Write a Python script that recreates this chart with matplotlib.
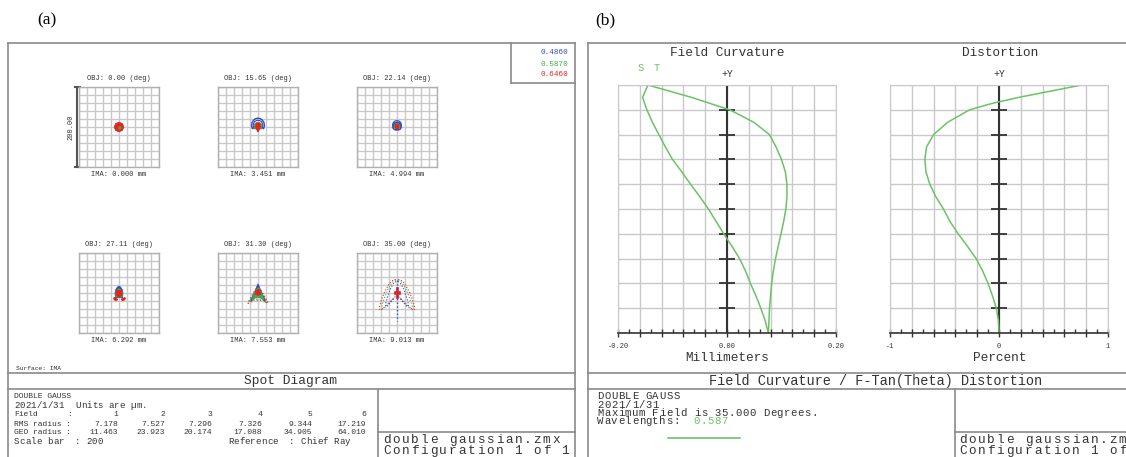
import numpy as np
import matplotlib
matplotlib.use("Agg")
import matplotlib.pyplot as plt

# ==============================
# CANVAS
# ==============================
W, H = 1126, 457
MONO = "Liberation Mono"
SERIF = "Liberation Serif"

BLUE = "#2f49c4"
GREEN = "#3fae3f"
RED = "#e8231e"
CURVE_GREEN = "#6cc267"
FRAME = "#8a8a8a"
GRID = "#c9c9c9"
INK = "#333333"

# ==============================
# DATA - spot diagram (a)
# ==============================
FIELD_ANGLES = ["0.00", "15.65", "22.14", "27.11", "31.30", "35.00"]
IMA_HEIGHTS = ["0.000", "3.451", "4.994", "6.292", "7.553", "9.013"]
WAVELENGTHS = ["0.4860", "0.5870", "0.6460"]

RMS_RADIUS = ["7.178", "7.527", "7.296", "7.326", "9.344", "17.219"]
GEO_RADIUS = ["11.463", "23.923", "20.174", "17.088", "34.905", "64.010"]

# spot outlines in micrometres (x right, y up)
F1_RED_X = [12, 8.5, 0, -8.5, -12, -8.5, 0, 8.5]
F1_RED_Y = [0, 8.5, 12, 8.5, 0, -8.5, -12, -8.5]
F1_GREEN_X = [0, 2, -1]
F1_GREEN_Y = [0, 1, -2]

F2_RING_X = [-14, -16, -15, -11, -6, 0, 6, 11, 15, 16, 14]
F2_RING_Y = [-4, 3, 11, 17, 21, 22, 21, 17, 11, 3, -4]
F2_RING2_X = [-11, -12, -11, -8, -4, 0, 4, 8, 11, 12, 11]
F2_RING2_Y = [-3, 3, 9, 14, 16, 17, 16, 14, 9, 3, -3]
F2_GREEN_X = [-9, -10, -8, -4, 0, 4, 8, 10, 9]
F2_GREEN_Y = [-5, 2, 8, 11, 12, 11, 8, 2, -5]
F2_RED_X = [-5, -6, -6, 0, 6, 6, 5]
F2_RED_Y = [10, 2, -2, -13, -2, 2, 10]

F3_BLUE_X = [-10, -11, -9, -5, 0, 5, 9, 11, 10, 5, -5]
F3_BLUE_Y = [-5, 2, 9, 12, 13, 12, 9, 2, -5, -8, -8]
F3_RING_X = [-10, -11, -9, -5, 0, 5, 9, 11, 10]
F3_RING_Y = [0, 6, 12, 15, 16, 15, 12, 6, 0]
F3_GREEN_X = [-7, -8, -6, 0, 6, 8, 7]
F3_GREEN_Y = [-4, 2, 7, 9, 7, 2, -4]
F3_RED_X = [-5, -5, 0, 5, 5]
F3_RED_Y = [7, -1, -7, -1, 7]

F4_BLUE_X = [-9, -10, -8, -4, 0, 4, 8, 10, 9, 0]
F4_BLUE_Y = [-13, 0, 9, 15, 17, 15, 9, 0, -13, -11]
F4_GREEN_X = [-8, -8, -5, 0, 5, 8, 8]
F4_GREEN_Y = [-10, 2, 8, 11, 8, 2, -10]
F4_RED_X = [-7, -7, 0, 7, 7]
F4_RED_Y = [7, -6, -11, -6, 7]
F4_DOTS_X = [-12, -10, -8, 8, 10, 12]
F4_DOTS_Y = [-13, -15, -14, -14, -15, -13]

# right half of the symmetric shapes of fields 5 and 6
F5_BLUE_X = [0, 4, 8, 12, 16, 19, 17, 11, 5, 0]
F5_BLUE_Y = [23, 14, 4, -5, -13, -20, -21, -15, -11, -10]
F5_GREEN_X = [0, 4, 8, 12, 15, 12, 6, 0]
F5_GREEN_Y = [14, 6, -2, -10, -16, -16, -11, -9]
F5_REDARC_X = [2, 8, 14, 19, 24, 25, 20, 14]
F5_REDARC_Y = [14, 6, -4, -13, -22, -26, -24, -18]
F5_GRNARC_X = [2, 7, 12, 17, 21, 20, 15, 10]
F5_GRNARC_Y = [12, 4, -5, -13, -21, -24, -20, -15]
F5_RED_X = [-6, 0, 6, 7, 0, -7]
F5_RED_Y = [6, 10, 6, -3, -6, -3]

F6_RED_WING_X = [3, 9, 15, 21, 27, 32, 37, 41, 44, 43, 37, 29, 21, 13, 7]
F6_RED_WING_Y = [34, 33, 28, 20, 10, 0, -12, -24, -36, -43, -41, -33, -25, -17, -11]
F6_GRN_WING_X = [3, 8, 13, 18, 23, 27, 31, 35, 38, 37, 31, 24, 17, 11, 6]
F6_GRN_WING_Y = [31, 30, 25, 17, 8, -1, -12, -23, -33, -39, -37, -30, -23, -16, -10]
F6_BLU_WING_X = [2, 6, 10, 14, 18, 21, 24, 27, 29, 28, 23, 18, 13, 8, 4]
F6_BLU_WING_Y = [28, 27, 22, 15, 7, -2, -11, -21, -29, -34, -32, -26, -20, -14, -9]
F6_TAIL_Y = [33, -70]
F6_CORE_X = [-3, 3, 3, 8, 8, 3, 3, -3, -3, -8, -8, -3]
F6_CORE_Y = [14, 14, 5, 5, -3, -3, -12, -12, -3, -3, 5, 5]

# ==============================
# DATA - field curvature / distortion (b)
# ==============================
FIELD_FRAC = [0.0, 0.05, 0.10, 0.15, 0.20, 0.25, 0.30, 0.35, 0.40, 0.45,
              0.50, 0.55, 0.60, 0.65, 0.70, 0.75, 0.80, 0.85, 0.90, 0.95, 1.0]
FC_SAG = [0.076, 0.077, 0.078, 0.080, 0.082, 0.085, 0.089, 0.094, 0.099, 0.104,
          0.108, 0.110, 0.110, 0.107, 0.100, 0.090, 0.078, 0.049, 0.005, -0.065, -0.145]
FC_TAN = [0.076, 0.070, 0.062, 0.053, 0.043, 0.034, 0.023, 0.009, -0.006, -0.020,
          -0.034, -0.050, -0.067, -0.083, -0.100, -0.113, -0.125, -0.137, -0.147, -0.155, -0.145]

DIST_FRAC = [0.0, 0.05, 0.10, 0.15, 0.20, 0.25, 0.30, 0.35, 0.40, 0.45, 0.50,
             0.55, 0.60, 0.65, 0.70, 0.75, 0.80, 0.85, 0.90, 0.925, 0.95, 0.975, 1.0]
DISTORTION = [0.0, -0.005, -0.025, -0.06, -0.10, -0.15, -0.21, -0.29, -0.375, -0.45, -0.51,
              -0.58, -0.635, -0.67, -0.68, -0.665, -0.60, -0.47, -0.27, -0.07, 0.18, 0.47, 0.76]


# ===============================================================
# HELPERS
# ===============================================================
def px_axes(fig, x0, y0, x1, y1):
    return fig.add_axes([x0 / W, 1 - y1 / H, (x1 - x0) / W, (y1 - y0) / H])


def mirror(xs, ys):
    xs = np.asarray(xs, float)
    ys = np.asarray(ys, float)
    return np.concatenate([xs, -xs[::-1]]), np.concatenate([ys, ys[::-1]])


def spot_box(ax):
    ax.set_xlim(-100, 100)
    ax.set_ylim(-100, 100)
    ax.set_xticks(np.arange(-100, 101, 20))
    ax.set_yticks(np.arange(-100, 101, 20))
    ax.grid(True, color=GRID, lw=1.0)
    ax.tick_params(length=0, labelbottom=False, labelleft=False)
    for s in ax.spines.values():
        s.set_color("#b0b0b0")
        s.set_linewidth(1.0)
    ax.set_axisbelow(True)


def draw_spots(ax, i):
    if i == 0:
        ax.fill(F1_RED_X, F1_RED_Y, color=RED, lw=0.6)
        ax.plot(F1_GREEN_X, F1_GREEN_Y, ".", color=GREEN, ms=1.5)
    elif i == 1:
        ax.plot(F2_RING_X, F2_RING_Y, color=BLUE, lw=1.0)
        ax.plot(F2_RING2_X, F2_RING2_Y, color=BLUE, lw=0.8)
        ax.fill(F2_GREEN_X, F2_GREEN_Y, color=GREEN, lw=0.5)
        ax.fill(F2_RED_X, F2_RED_Y, color=RED, lw=0.5)
    elif i == 2:
        ax.fill(F3_BLUE_X, F3_BLUE_Y, color=BLUE, lw=0.5)
        ax.plot(F3_RING_X, F3_RING_Y, color=BLUE, lw=0.8)
        ax.fill(F3_GREEN_X, F3_GREEN_Y, color=GREEN, lw=0.5)
        ax.fill(F3_RED_X, F3_RED_Y, color=RED, lw=0.5)
    elif i == 3:
        ax.fill(F4_BLUE_X, F4_BLUE_Y, color=BLUE, lw=0.5)
        ax.fill(F4_GREEN_X, F4_GREEN_Y, color=GREEN, lw=0.5)
        ax.fill(F4_RED_X, F4_RED_Y, color=RED, lw=0.5)
        ax.plot(F4_DOTS_X, F4_DOTS_Y, ".", color=RED, ms=2)
    elif i == 4:
        ax.plot(*mirror(F5_REDARC_X, F5_REDARC_Y), ls=":", color=RED, lw=0.9)
        ax.plot(*mirror(F5_GRNARC_X, F5_GRNARC_Y), ls=":", color=GREEN, lw=0.9)
        ax.fill(*mirror(F5_BLUE_X, F5_BLUE_Y), color=BLUE, lw=0.5)
        ax.fill(*mirror(F5_GREEN_X, F5_GREEN_Y), color=GREEN, lw=0.5)
        ax.fill(F5_RED_X, F5_RED_Y, color=RED, lw=0.5)
    else:
        ax.plot([0, 0], F6_TAIL_Y, ls=":", color=BLUE, lw=1.0)
        for wx, wy, c in [(F6_RED_WING_X, F6_RED_WING_Y, RED),
                          (F6_GRN_WING_X, F6_GRN_WING_Y, GREEN),
                          (F6_BLU_WING_X, F6_BLU_WING_Y, BLUE)]:
            ax.plot(wx, wy, ls=":", color=c, lw=0.8)
            ax.plot(-np.asarray(wx), wy, ls=":", color=c, lw=0.8)
        ax.fill(F6_CORE_X, F6_CORE_Y, color=RED, lw=0.5)


def aberration_box(ax, xmax):
    ax.set_xlim(-xmax, xmax)
    ax.set_ylim(0, 1)
    ax.set_xticks(np.linspace(-xmax, xmax, 11))
    ax.set_xticks(np.linspace(-xmax, xmax, 21), minor=True)
    ax.set_yticks(np.linspace(0, 1, 11))
    ax.grid(True, color=GRID, lw=1.0)
    ax.tick_params(axis="x", which="major", direction="inout", length=6,
                   width=1.0, color=INK, labelbottom=False)
    ax.tick_params(axis="x", which="minor", direction="in", length=3,
                   width=1.0, color=INK)
    ax.tick_params(axis="y", length=0, labelleft=False)
    for s in ax.spines.values():
        s.set_color(GRID)
    ax.spines["bottom"].set_color(INK)
    ax.spines["bottom"].set_linewidth(1.2)
    ax.axvline(0, color=INK, lw=1.5)
    ax.plot(np.zeros(9), np.linspace(0.1, 0.9, 9), ls="none", marker="_",
            ms=11, mew=1.3, color=INK)
    ax.set_axisbelow(True)


# ===============================================================
# FIGURE
# ===============================================================
fig = plt.figure(figsize=(W / 100, H / 100), dpi=100)
base = fig.add_axes([0, 0, 1, 1])
base.set_xlim(0, W)
base.set_ylim(H, 0)
base.axis("off")


def hline(x0, x1, y, **kw):
    base.plot([x0, x1], [y, y], color=FRAME, lw=1.2, **kw)


def vline(x, y0, y1, **kw):
    base.plot([x, x], [y0, y1], color=FRAME, lw=1.2, **kw)


def txt(x, y, s, size, **kw):
    kw.setdefault("color", INK)
    kw.setdefault("va", "center")
    kw.setdefault("family", MONO)
    base.text(x, y, s, fontsize=size, **kw)


def spaced(x, y, s, size, pitch, **kw):
    # wide letter-spaced mono text, one glyph per cell
    for k, ch in enumerate(s):
        if ch != " ":
            txt(x + (k + 0.5) * pitch, y, ch, size, ha="center", **kw)


# panel labels
txt(47, 20, "(a)", 12.5, family=SERIF, color="black", ha="center")
txt(605, 20, "(b)", 12.5, family=SERIF, color="black", ha="center")

# ------------------ panel (a) frame ------------------
hline(8, 575, 43)
vline(8, 43, 460)
vline(575, 43, 460)
vline(511, 43, 83)
hline(511, 575, 83)
for k, (wl, c) in enumerate(zip(WAVELENGTHS, [BLUE, GREEN, RED])):
    txt(568, 53 + k * 11, wl, 5.5, color=c, ha="right")

hline(8, 575, 373)
hline(8, 575, 389)
vline(378, 389, 460)
hline(378, 575, 432)

txt(16, 368, "Surface: IMA", 4.5)
txt(291, 381, "Spot Diagram", 9.3, ha="center")

# summary table
txt(14, 396, "DOUBLE GAUSS", 5.8)
spaced(14, 406, "2021/1/31  Units are \u00b5m.", 6.6, 5.56)
txt(14, 415, "Field", 5.8)
txt(14, 424, "RMS radius :", 5.8)
txt(14, 432, "GEO radius :", 5.8)
txt(67, 415, ":", 5.8)
col_right = [118, 165, 212, 262, 312, 366]
for k, xr in enumerate(col_right):
    txt(xr, 415, str(k + 1), 5.8, ha="right")
    txt(xr, 424, RMS_RADIUS[k], 5.8, ha="right")
    txt(xr, 432, GEO_RADIUS[k], 5.8, ha="right")
spaced(14, 442, "Scale bar  : 200", 6.6, 5.56)
spaced(228, 442, "Reference  : Chief Ray", 6.6, 5.56)
spaced(382, 440, "double gaussian.zmx", 9.2, 9.4)
spaced(382, 451, "Configuration 1 of 1", 9.2, 9.4)

# spot diagrams
box_left = [79, 218, 357]
box_top = [87, 253]
for i in range(6):
    x0 = box_left[i % 3]
    y0 = box_top[i // 3]
    ax = px_axes(fig, x0, y0, x0 + 80, y0 + 80)
    spot_box(ax)
    draw_spots(ax, i)
    txt(x0 + 40, y0 - 9, f"OBJ: {FIELD_ANGLES[i]} (deg)", 5, ha="center")
    txt(x0 + 40, y0 + 88, f"IMA: {IMA_HEIGHTS[i]} mm", 5, ha="center")

# scale bar
base.plot([77, 77], [87, 167], color="#555555", lw=1.5)
base.plot([75, 80], [87, 87], color="#555555", lw=1.5)
base.plot([75, 80], [167, 167], color="#555555", lw=1.5)
txt(71, 127, "200.00", 5, rotation=90, ha="center")

# ------------------ panel (b) frame ------------------
hline(588, 1130, 43)
vline(588, 43, 460)
hline(588, 1130, 373)
hline(588, 1130, 389)
vline(955, 389, 460)
hline(955, 1130, 432)

txt(876, 381, "Field Curvature / F-Tan(Theta) Distortion", 9.8, ha="center")
spaced(597, 396, "DOUBLE GAUSS", 7.7, 6.9)
spaced(597, 404.5, "2021/1/31", 7.7, 6.9)
spaced(597, 413, "Maximum Field is 35.000 Degrees.", 7.7, 6.9)
spaced(597, 421.5, "Wavelengths:", 7.7, 6.9)
spaced(597 + 14 * 6.9, 421.5, "0.587", 7.7, 6.9, color=CURVE_GREEN)
base.plot([668, 740], [438, 438], color=CURVE_GREEN, lw=1.2)
spaced(958, 440, "double gaussian.zmx", 9.2, 9.4)
spaced(958, 451, "Configuration 1 of 1", 9.2, 9.4)

# field curvature
ax_fc = px_axes(fig, 618, 85, 836, 333)
aberration_box(ax_fc, 0.2)
ax_fc.plot(FC_SAG, FIELD_FRAC, color=CURVE_GREEN, lw=1.1)
ax_fc.plot(FC_TAN, FIELD_FRAC, color=CURVE_GREEN, lw=1.1)
txt(727, 53, "Field Curvature", 9.2, ha="center")
txt(641, 68, "S", 7.5, color=CURVE_GREEN, ha="center")
txt(657, 68, "T", 7.5, color=CURVE_GREEN, ha="center")
txt(727, 74, "+Y", 7, ha="center")
txt(618, 346, "-0.20", 5, ha="center")
txt(727, 346, "0.00", 5, ha="center")
txt(836, 346, "0.20", 5, ha="center")
txt(727, 358, "Millimeters", 9.2, ha="center")

# distortion
ax_d = px_axes(fig, 890, 85, 1108, 333)
aberration_box(ax_d, 1.0)
ax_d.plot(DISTORTION, DIST_FRAC, color=CURVE_GREEN, lw=1.1)
txt(1000, 53, "Distortion", 9.2, ha="center")
txt(999, 74, "+Y", 7, ha="center")
txt(890, 346, "-1", 5, ha="center")
txt(999, 346, "0", 5, ha="center")
txt(1108, 346, "1", 5, ha="center")
txt(1000, 358, "Percent", 9.2, ha="center")

fig.savefig("out.png", dpi=100)
plt.close(fig)
